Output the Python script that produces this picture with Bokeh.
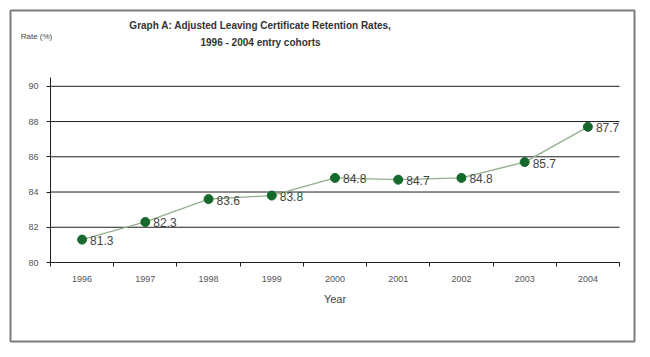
from bokeh.plotting import figure
from bokeh.models import ColumnDataSource, Range1d, FixedTicker, LabelSet, Label
from bokeh.core.properties import value
from bokeh.embed import file_html
from bokeh.resources import INLINE

years = ["1996", "1997", "1998", "1999", "2000", "2001", "2002", "2003", "2004"]
rates = [81.3, 82.3, 83.6, 83.8, 84.8, 84.7, 84.8, 85.7, 87.7]
y_ticks = [80, 82, 84, 86, 88, 90]
y_top = 90.5

n = len(years)
xs = [i + 0.5 for i in range(n)]
src = ColumnDataSource(dict(x=xs, y=rates, lab=[f"{r:.1f}" for r in rates]))

# frame = the bordered box; plotting area sits inside it
FW, FH = 624, 331          # frame size in px
L, W, R = 40, 569, 15      # left pad, data width, right pad
T, H, B = 67, 185, 79      # top pad (to y_top), data height (y_top..80), bottom pad
xu = W / n
yu = H / (y_top - y_ticks[0])

p = figure(width=FW + 20, height=FH + 20, output_backend="svg", toolbar_location=None,
           x_range=Range1d(-L / xu, n + R / xu),
           y_range=Range1d(y_ticks[0] - B / yu, y_top + T / yu),
           min_border_left=10, min_border_right=10, min_border_top=10,
           min_border_bottom=10)
p.outline_line_color = "#7c7c7c"
p.outline_line_width = 2
p.background_fill_color = "white"
p.border_fill_color = "white"
p.xgrid.visible = False
p.ygrid.visible = False

FONT = "Liberation Sans"
AX = "#1e1e1e"

# horizontal grid lines across the data area
p.segment(x0=[0] * len(y_ticks), x1=[n] * len(y_ticks), y0=y_ticks, y1=y_ticks,
          line_color=AX, line_width=1)

xa = p.xaxis[0]
xa.fixed_location = y_ticks[0]
xa.bounds = (0, n)
xa.ticker = FixedTicker(ticks=xs, minor_ticks=list(range(n + 1)))
xa.major_label_overrides = {x: y for x, y in zip(xs, years)}
xa.major_tick_line_color = None
xa.major_tick_out = 0
xa.major_tick_in = 0
xa.minor_tick_out = 4
xa.minor_tick_in = 0
xa.minor_tick_line_color = AX
xa.axis_line_color = AX
xa.major_label_text_font = FONT
xa.major_label_text_font_size = "9px"
xa.major_label_text_color = "#555555"
xa.major_label_standoff = 9
xa.axis_label = "Year"
xa.axis_label_text_font = FONT
xa.axis_label_text_font_size = "11px"
xa.axis_label_text_font_style = "normal"
xa.axis_label_text_color = "#444444"
xa.axis_label_standoff = 8

ya = p.yaxis[0]
ya.fixed_location = 0
ya.bounds = (y_ticks[0], y_top)
ya.ticker = FixedTicker(ticks=y_ticks)
ya.major_tick_out = 4
ya.major_tick_in = 0
ya.minor_tick_line_color = None
ya.axis_line_color = AX
ya.major_tick_line_color = AX
ya.major_label_text_font = FONT
ya.major_label_text_font_size = "9px"
ya.major_label_text_color = "#555555"
ya.major_label_standoff = 8

p.line("x", "y", source=src, line_color="#93b08e", line_width=1.3)
p.scatter("x", "y", source=src, size=9, fill_color="#16692c", line_color="#16692c")
p.add_layout(LabelSet(x="x", y="y", text="lab", source=src, x_offset=8, y_offset=-1,
                      text_baseline="middle", text_font=value(FONT),
                      text_font_size="12px", text_color="#444444"))

# title & unit label (screen units, relative to the frame's bottom-left)
p.add_layout(Label(x=250, y=316, x_units="screen", y_units="screen",
                   text="Graph A: Adjusted Leaving Certificate Retention Rates,",
                   text_align="center", text_baseline="middle",
                   text_font=FONT, text_font_style="bold",
                   text_font_size="10px", text_color="#333333"))
p.add_layout(Label(x=250, y=299, x_units="screen", y_units="screen",
                   text="1996 - 2004 entry cohorts",
                   text_align="center", text_baseline="middle",
                   text_font=FONT, text_font_style="bold",
                   text_font_size="10px", text_color="#333333"))
p.add_layout(Label(x=26, y=305, x_units="screen", y_units="screen",
                   text="Rate (%)", text_align="center", text_baseline="middle",
                   text_font=FONT, text_font_size="8px", text_color="#444444"))

open("out.html", "w").write(file_html(p, INLINE))
